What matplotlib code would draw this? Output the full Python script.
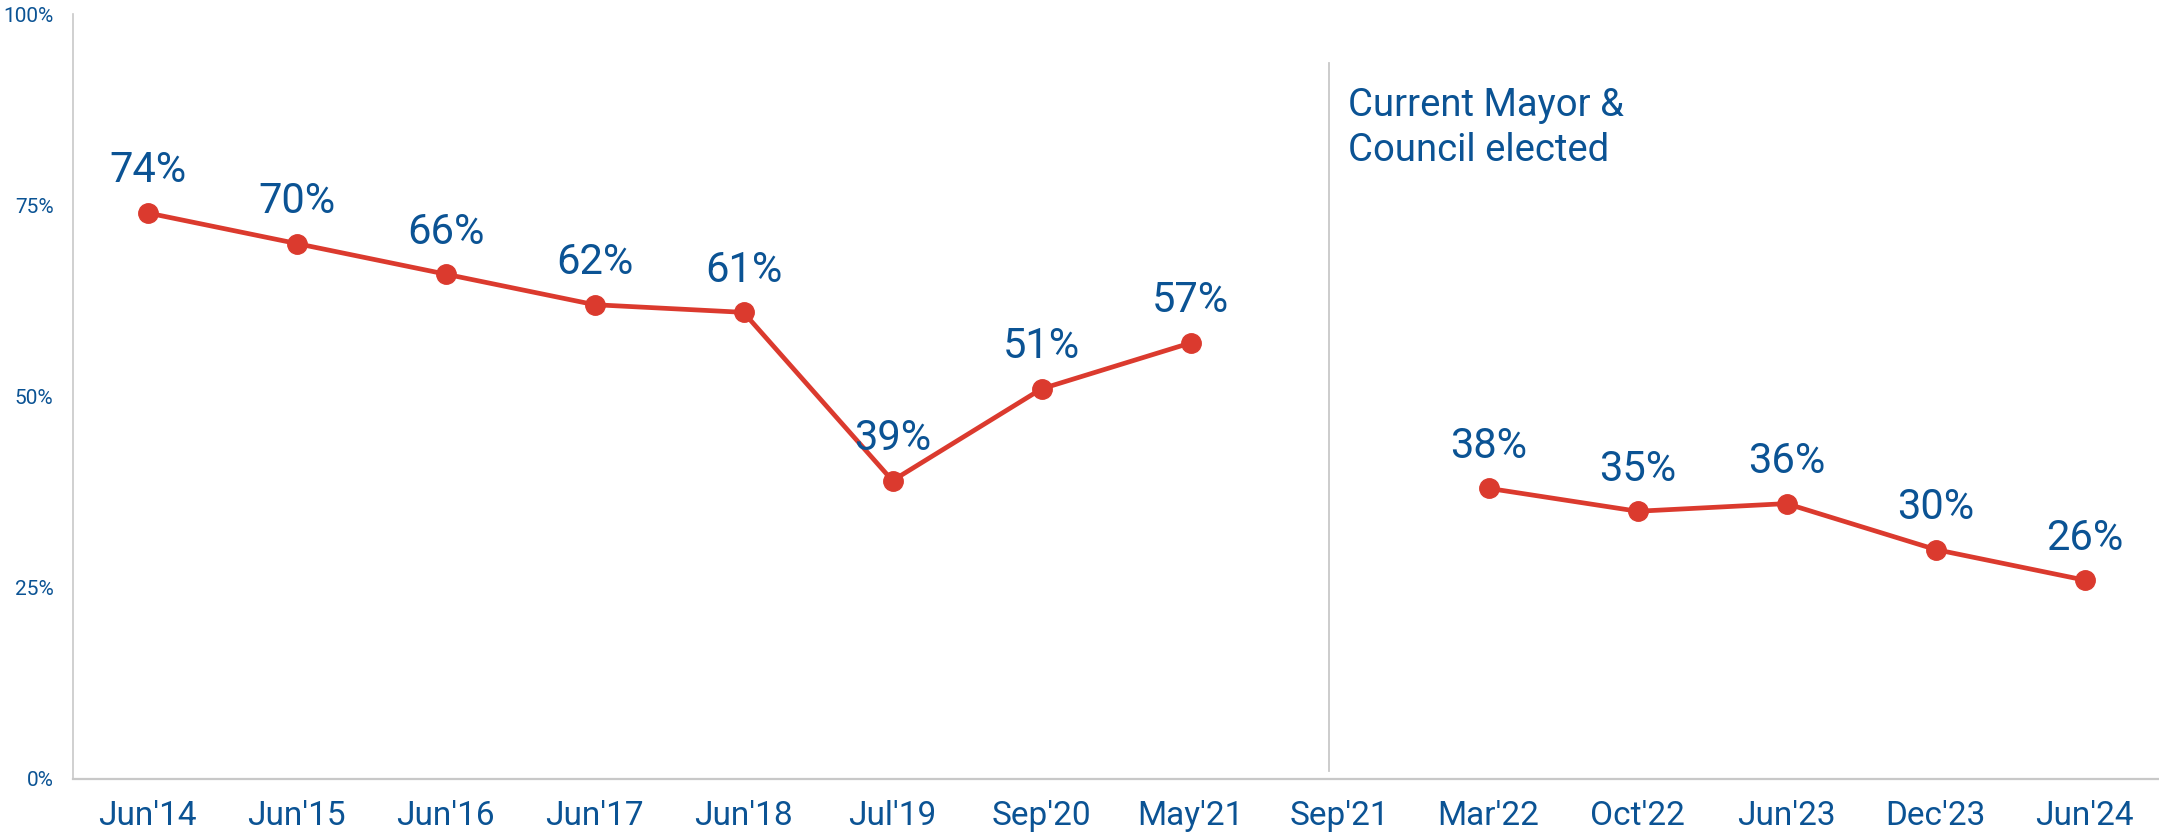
import numpy as np
import matplotlib.pyplot as plt

# ─── Dati ────────────────────────────────────────────────────────────────────
periods = ["Jun'14", "Jun'15", "Jun'16", "Jun'17", "Jun'18", "Jul'19", "Sep'20",
           "May'21", "Sep'21", "Mar'22", "Oct'22", "Jun'23", "Dec'23", "Jun'24"]
approval = [74, 70, 66, 62, 61, 39, 51, 57, np.nan, 38, 35, 36, 30, 26]
y_ticks = [0, 25, 50, 75, 100]
y_tick_labels = ["0%", "25%", "50%", "75%", "100%"]
event_label = "Current Mayor &\nCouncil elected"

BLUE = "#0b5394"
RED = "#db3a2e"
GREY = "#c8c8c8"

plt.rcParams.update({
    "font.family": ["Roboto", "DejaVu Sans"],
})

fig = plt.figure(figsize=(21.59, 8.35), dpi=100)
ax = fig.add_axes([73 / 2159, 1 - 779 / 835, 2086 / 2159, 765 / 835])

x = np.arange(len(periods))
y = np.array(approval, dtype=float)

ax.plot(x, y, color=RED, lw=3.4, marker="o", markersize=14,
        solid_capstyle="round", zorder=3)

for xi, yi in zip(x, y):
    if np.isnan(yi):
        continue
    ax.annotate(f"{yi:.0f}%", (xi, yi), xytext=(0, 22),
                textcoords="offset points", ha="center", va="baseline",
                fontsize=30, color=BLUE, zorder=4)

# ── Linea verticale elezione
ax.plot([7.93, 7.93], [1, 93.6], color=GREY, lw=1.3, zorder=1)
ax.text(8.06, 90.5, event_label, ha="left", va="top",
        fontsize=27.5, color=BLUE, linespacing=1.3)

# ── Assi
ax.set_xlim(-0.5, len(periods) - 0.5)
ax.set_ylim(0, 100)
ax.set_xticks(x)
ax.set_xticklabels(periods)
ax.set_yticks(y_ticks)
ax.set_yticklabels(y_tick_labels)
ax.tick_params(axis="x", length=0, pad=15, labelsize=24, labelcolor=BLUE)
ax.tick_params(axis="y", length=0, pad=14, labelsize=15, labelcolor=BLUE)

for side in ("top", "right"):
    ax.spines[side].set_visible(False)
ax.spines["left"].set_color(GREY)
ax.spines["bottom"].set_color(GREY)
ax.spines["left"].set_linewidth(1.2)
ax.spines["bottom"].set_linewidth(1.6)

fig.savefig("out.png", dpi=100)
